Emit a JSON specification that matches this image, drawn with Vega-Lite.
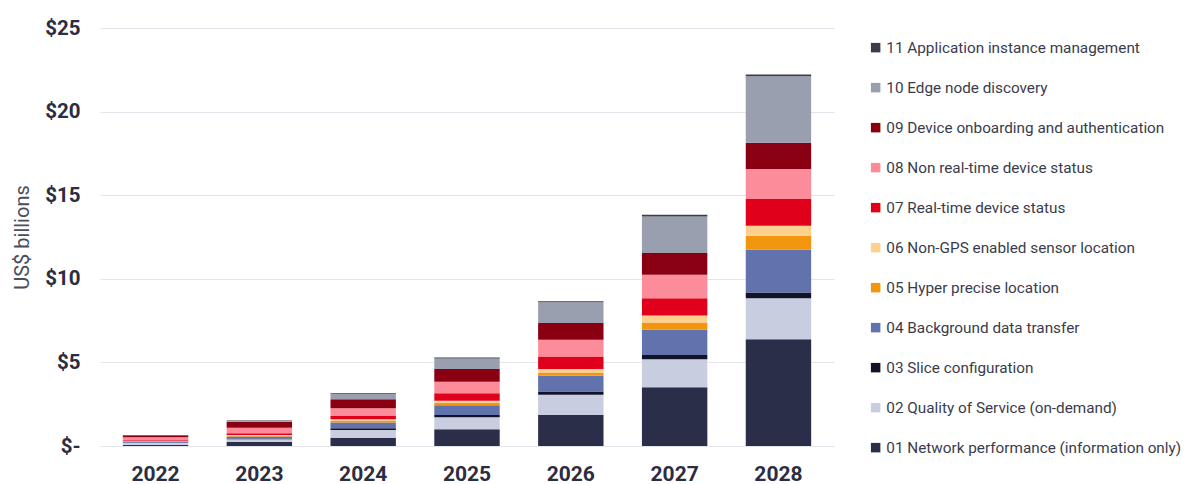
{
  "$schema": "https://vega.github.io/schema/vega-lite/v6.json",
  "autosize": "none",
  "width": 734,
  "height": 418,
  "padding": {"left": 100, "top": 28, "right": 355, "bottom": 38},
  "background": "white",
  "config": {
    "font": "Roboto",
    "view": {"stroke": null}
  },
  "datasets": {
    "rows": [
      {"year": "2022", "series": "01 Network performance (information only)", "value": 0.06},
      {"year": "2023", "series": "01 Network performance (information only)", "value": 0.24},
      {"year": "2024", "series": "01 Network performance (information only)", "value": 0.5},
      {"year": "2025", "series": "01 Network performance (information only)", "value": 1.0},
      {"year": "2026", "series": "01 Network performance (information only)", "value": 1.86},
      {"year": "2027", "series": "01 Network performance (information only)", "value": 3.51},
      {"year": "2028", "series": "01 Network performance (information only)", "value": 6.39},
      {"year": "2022", "series": "02 Quality of Service (on-demand)", "value": 0.12},
      {"year": "2023", "series": "02 Quality of Service (on-demand)", "value": 0.17},
      {"year": "2024", "series": "02 Quality of Service (on-demand)", "value": 0.46},
      {"year": "2025", "series": "02 Quality of Service (on-demand)", "value": 0.72},
      {"year": "2026", "series": "02 Quality of Service (on-demand)", "value": 1.2},
      {"year": "2027", "series": "02 Quality of Service (on-demand)", "value": 1.68},
      {"year": "2028", "series": "02 Quality of Service (on-demand)", "value": 2.45},
      {"year": "2022", "series": "03 Slice configuration", "value": 0.02},
      {"year": "2023", "series": "03 Slice configuration", "value": 0.04},
      {"year": "2024", "series": "03 Slice configuration", "value": 0.1},
      {"year": "2025", "series": "03 Slice configuration", "value": 0.14},
      {"year": "2026", "series": "03 Slice configuration", "value": 0.2},
      {"year": "2027", "series": "03 Slice configuration", "value": 0.26},
      {"year": "2028", "series": "03 Slice configuration", "value": 0.34},
      {"year": "2022", "series": "04 Background data transfer", "value": 0.05},
      {"year": "2023", "series": "04 Background data transfer", "value": 0.12},
      {"year": "2024", "series": "04 Background data transfer", "value": 0.34},
      {"year": "2025", "series": "04 Background data transfer", "value": 0.58},
      {"year": "2026", "series": "04 Background data transfer", "value": 0.94},
      {"year": "2027", "series": "04 Background data transfer", "value": 1.5},
      {"year": "2028", "series": "04 Background data transfer", "value": 2.56},
      {"year": "2022", "series": "05 Hyper precise location", "value": 0.02},
      {"year": "2023", "series": "05 Hyper precise location", "value": 0.05},
      {"year": "2024", "series": "05 Hyper precise location", "value": 0.11},
      {"year": "2025", "series": "05 Hyper precise location", "value": 0.15},
      {"year": "2026", "series": "05 Hyper precise location", "value": 0.2},
      {"year": "2027", "series": "05 Hyper precise location", "value": 0.43},
      {"year": "2028", "series": "05 Hyper precise location", "value": 0.83},
      {"year": "2022", "series": "06 Non-GPS enabled sensor location", "value": 0.02},
      {"year": "2023", "series": "06 Non-GPS enabled sensor location", "value": 0.04},
      {"year": "2024", "series": "06 Non-GPS enabled sensor location", "value": 0.09},
      {"year": "2025", "series": "06 Non-GPS enabled sensor location", "value": 0.12},
      {"year": "2026", "series": "06 Non-GPS enabled sensor location", "value": 0.2},
      {"year": "2027", "series": "06 Non-GPS enabled sensor location", "value": 0.42},
      {"year": "2028", "series": "06 Non-GPS enabled sensor location", "value": 0.6},
      {"year": "2022", "series": "07 Real-time device status", "value": 0.05},
      {"year": "2023", "series": "07 Real-time device status", "value": 0.1},
      {"year": "2024", "series": "07 Real-time device status", "value": 0.2},
      {"year": "2025", "series": "07 Real-time device status", "value": 0.45},
      {"year": "2026", "series": "07 Real-time device status", "value": 0.76},
      {"year": "2027", "series": "07 Real-time device status", "value": 1.04},
      {"year": "2028", "series": "07 Real-time device status", "value": 1.6},
      {"year": "2022", "series": "08 Non real-time device status", "value": 0.18},
      {"year": "2023", "series": "08 Non real-time device status", "value": 0.33},
      {"year": "2024", "series": "08 Non real-time device status", "value": 0.46},
      {"year": "2025", "series": "08 Non real-time device status", "value": 0.69},
      {"year": "2026", "series": "08 Non real-time device status", "value": 1.0},
      {"year": "2027", "series": "08 Non real-time device status", "value": 1.4},
      {"year": "2028", "series": "08 Non real-time device status", "value": 1.8},
      {"year": "2022", "series": "09 Device onboarding and authentication", "value": 0.12},
      {"year": "2023", "series": "09 Device onboarding and authentication", "value": 0.36},
      {"year": "2024", "series": "09 Device onboarding and authentication", "value": 0.54},
      {"year": "2025", "series": "09 Device onboarding and authentication", "value": 0.76},
      {"year": "2026", "series": "09 Device onboarding and authentication", "value": 1.0},
      {"year": "2027", "series": "09 Device onboarding and authentication", "value": 1.3},
      {"year": "2028", "series": "09 Device onboarding and authentication", "value": 1.56},
      {"year": "2022", "series": "10 Edge node discovery", "value": 0.02},
      {"year": "2023", "series": "10 Edge node discovery", "value": 0.05},
      {"year": "2024", "series": "10 Edge node discovery", "value": 0.31},
      {"year": "2025", "series": "10 Edge node discovery", "value": 0.63},
      {"year": "2026", "series": "10 Edge node discovery", "value": 1.24},
      {"year": "2027", "series": "10 Edge node discovery", "value": 2.19},
      {"year": "2028", "series": "10 Edge node discovery", "value": 3.99},
      {"year": "2022", "series": "11 Application instance management", "value": 0.0},
      {"year": "2023", "series": "11 Application instance management", "value": 0.02},
      {"year": "2024", "series": "11 Application instance management", "value": 0.05},
      {"year": "2025", "series": "11 Application instance management", "value": 0.05},
      {"year": "2026", "series": "11 Application instance management", "value": 0.05},
      {"year": "2027", "series": "11 Application instance management", "value": 0.1},
      {"year": "2028", "series": "11 Application instance management", "value": 0.1}
    ]
  },
  "data": {"name": "rows"},
  "mark": {"type": "bar"},
  "encoding": {
    "x": {
      "field": "year",
      "type": "ordinal",
      "scale": {"paddingInner": 0.37, "paddingOuter": 0.22},
      "axis": {
        "title": null,
        "labelAngle": 0,
        "labelFont": "Roboto",
        "labelFontSize": 21,
        "labelFontWeight": "bold",
        "labelColor": "#2b2d42",
        "labelPadding": 17,
        "domain": false,
        "ticks": false,
        "grid": false
      }
    },
    "y": {
      "field": "value",
      "type": "quantitative",
      "aggregate": "sum",
      "stack": "zero",
      "scale": {"domain": [0, 25], "nice": false},
      "axis": {
        "title": "US$ billions",
        "titleFont": "Roboto",
        "titleFontSize": 20,
        "titleFontWeight": "normal",
        "titleColor": "#4a4d5e",
        "titlePadding": 12,
        "values": [0, 5, 10, 15, 20, 25],
        "labelExpr": "datum.value == 0 ? '$-' : '$' + datum.value",
        "labelFont": "Roboto",
        "labelFontSize": 20.5,
        "labelFontWeight": "bold",
        "labelColor": "#2b2d42",
        "labelPadding": 20,
        "domain": false,
        "ticks": false,
        "grid": true,
        "gridColor": "#e4e5ec",
        "gridWidth": 1
      }
    },
    "color": {
      "field": "series",
      "type": "nominal",
      "scale": {
        "domain": [
          "11 Application instance management",
          "10 Edge node discovery",
          "09 Device onboarding and authentication",
          "08 Non real-time device status",
          "07 Real-time device status",
          "06 Non-GPS enabled sensor location",
          "05 Hyper precise location",
          "04 Background data transfer",
          "03 Slice configuration",
          "02 Quality of Service (on-demand)",
          "01 Network performance (information only)"
        ],
        "range": ["#3b3c48", "#9a9fb0", "#8a0012", "#fc8c99", "#e0001c", "#fdd08e", "#f2950f", "#6172ac", "#111428", "#c9cde0", "#2a2e48"]
      },
      "legend": {
        "title": null,
        "orient": "none",
        "legendX": 768,
        "legendY": 12,
        "symbolType": "square",
        "symbolSize": 90,
        "symbolStrokeWidth": 0,
        "labelFont": "Roboto",
        "labelFontSize": 15.3,
        "labelColor": "#3a3c4c",
        "labelOffset": 3,
        "rowPadding": 24,
        "labelLimit": 400
      }
    },
    "order": {"field": "series", "sort": "ascending"}
  }
}
